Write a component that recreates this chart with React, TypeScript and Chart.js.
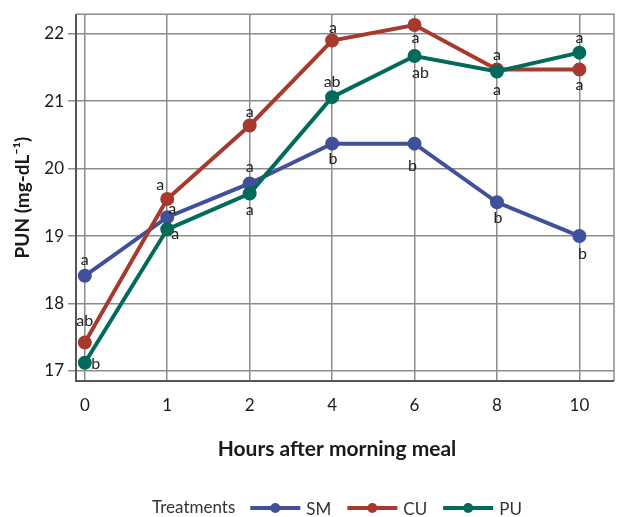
import React, { useEffect, useRef } from "react";
import { Chart, registerables } from "chart.js";

Chart.register(...registerables);

const hours = ["0", "1", "2", "4", "6", "8", "10"];
const smValues = [18.41, 19.28, 19.78, 20.37, 20.37, 19.5, 19.0];
const cuValues = [17.42, 19.55, 20.64, 21.9, 22.13, 21.47, 21.47];
const puValues = [17.12, 19.1, 19.63, 21.06, 21.67, 21.44, 21.72];
const smLetters = ["a", "a", "a", "b", "b", "b", "b"];
const cuLetters = ["ab", "a", "a", "a", "a", "a", "a"];
const puLetters = ["b", "a", "a", "ab", "ab", "a", "a"];
const yTicks = [17, 18, 19, 20, 21, 22];

// letter placement relative to each point (px)
const smLetterOffsets = [[0, -16], [5, -8], [0, -17], [1, 15], [-2, 22], [1, 16], [3, 18]];
const cuLetterOffsets = [[0, -22], [-7, -14], [0, -14], [1, -13], [1, 13], [0, -15], [0, 15]];
const puLetterOffsets = [[11, 1], [8, 5], [0, 16], [0, -15], [6, 17], [0, 18], [0, -15]];

const FONT = "Lato, 'Open Sans', sans-serif";

const letterPlugin = {
  id: "letters",
  afterDatasetsDraw(chart: any) {
    const ctx = chart.ctx;
    ctx.save();
    ctx.font = `16px ${FONT}`;
    ctx.fillStyle = "#222";
    ctx.textAlign = "center";
    ctx.textBaseline = "middle";
    chart.data.datasets.forEach((ds: any, i: number) => {
      const meta = chart.getDatasetMeta(i);
      meta.data.forEach((pt: any, j: number) => {
        const off = ds.letterOffsets[j];
        ctx.fillText(ds.letters[j], pt.x + off[0], pt.y + off[1]);
      });
    });
    ctx.restore();
  },
};

const framePlugin = {
  id: "frame",
  beforeDatasetsDraw(chart: any) {
    const { ctx, chartArea: a } = chart;
    ctx.save();
    ctx.strokeStyle = "#8c8c8c";
    ctx.lineWidth = 1.5;
    ctx.beginPath();
    ctx.moveTo(a.left, a.top);
    ctx.lineTo(a.right, a.top);
    ctx.lineTo(a.right, a.bottom);
    ctx.stroke();
    ctx.strokeStyle = "#555";
    ctx.lineWidth = 2;
    ctx.beginPath();
    ctx.moveTo(a.left, a.top);
    ctx.lineTo(a.left, a.bottom);
    ctx.lineTo(a.right, a.bottom);
    ctx.stroke();
    ctx.restore();
  },
  afterDraw(chart: any) {
    const { ctx, chartArea: a } = chart;
    const cx = (a.left + a.right) / 2 - 8;
    ctx.save();
    ctx.fillStyle = "#1a1a1a";
    ctx.font = `bold 21px ${FONT}`;
    ctx.textAlign = "center";
    ctx.textBaseline = "middle";
    ctx.fillText("Hours after morning meal", cx, a.bottom + 68);

    // legend
    ctx.font = `17px ${FONT}`;
    const title = "Treatments";
    const titleW = ctx.measureText(title).width;
    const symW = 50;
    const items = chart.data.datasets.map((d: any) => ({
      label: d.label,
      color: d.borderColor,
      w: ctx.measureText(d.label).width,
    }));
    const gapTitle = 15;
    const gapSym = 6;
    const gapItem = 16;
    let total = titleW + gapTitle;
    items.forEach((it: any, i: number) => {
      total += symW + gapSym + it.w + (i < items.length - 1 ? gapItem : 0);
    });
    let x = cx - total / 2;
    const y = a.bottom + 127;
    ctx.textAlign = "left";
    ctx.fillStyle = "#333";
    ctx.fillText(title, x, y);
    x += titleW + gapTitle;
    items.forEach((it: any) => {
      ctx.strokeStyle = it.color;
      ctx.lineWidth = 4;
      ctx.beginPath();
      ctx.moveTo(x, y);
      ctx.lineTo(x + symW, y);
      ctx.stroke();
      ctx.fillStyle = it.color;
      ctx.beginPath();
      ctx.arc(x + symW / 2, y, 5, 0, Math.PI * 2);
      ctx.fill();
      x += symW + gapSym;
      ctx.fillStyle = "#333";
      ctx.fillText(it.label, x, y + 2);
      x += it.w + gapItem;
    });
    ctx.restore();
  },
};

function series(values: number[]) {
  return values.map((v, i) => ({ x: i, y: v }));
}

export default function App() {
  const ref = useRef<HTMLCanvasElement>(null);
  useEffect(() => {
    if (!ref.current) return;
    const common = { borderWidth: 4, pointRadius: 5, pointHoverRadius: 5 };
    const chart = new Chart(ref.current, {
      type: "line",
      data: {
        datasets: [
          {
            label: "SM",
            data: series(smValues),
            borderColor: "#41509a",
            backgroundColor: "#41509a",
            ...common,
            order: 2,
            letters: smLetters,
            letterOffsets: smLetterOffsets,
          } as any,
          {
            label: "CU",
            data: series(cuValues),
            borderColor: "#a63a2f",
            backgroundColor: "#a63a2f",
            ...common,
            order: 1,
            letters: cuLetters,
            letterOffsets: cuLetterOffsets,
          } as any,
          {
            label: "PU",
            data: series(puValues),
            borderColor: "#006a5b",
            backgroundColor: "#006a5b",
            ...common,
            order: 0,
            letters: puLetters,
            letterOffsets: puLetterOffsets,
          } as any,
        ],
      },
      options: {
        animation: false,
        responsive: true,
        maintainAspectRatio: false,
        layout: { padding: { left: 0, right: 1, top: 12, bottom: 0 } },
        plugins: { legend: { display: false }, tooltip: { enabled: false } },
        scales: {
          x: {
            type: "linear",
            min: -0.107,
            max: 6.42,
            afterBuildTicks: (s: any) => {
              s.ticks = hours.map((_, i) => ({ value: i }));
            },
            afterFit: (s: any) => {
              s.height = 136;
            },
            border: { display: false },
            grid: { color: "#8c8c8c", lineWidth: 1.5, drawTicks: false },
            ticks: {
              padding: 14,
              color: "#1a1a1a",
              font: { family: FONT, size: 17 },
              callback: (v: any) => hours[v] ?? "",
            },
          },
          y: {
            min: 16.85,
            max: 22.29,
            afterBuildTicks: (s: any) => {
              s.ticks = yTicks.map((v) => ({ value: v }));
            },
            afterFit: (s: any) => {
              s.width = 76;
            },
            border: { display: false },
            grid: { color: "#8c8c8c", lineWidth: 1.5, tickLength: 8 },
            ticks: {
              padding: 4,
              color: "#1a1a1a",
              font: { family: FONT, size: 17 },
            },
            title: {
              display: true,
              text: "PUN (mg-dL⁻¹)",
              color: "#1a1a1a",
              font: { family: FONT, size: 19, weight: "bold" },
              padding: { top: 11, bottom: 0 },
            },
          },
        },
      },
      plugins: [framePlugin, letterPlugin],
    });
    return () => chart.destroy();
  }, []);
  return (
    <div style={{ position: "absolute", left: 0, top: 0, width: 623, height: 517 }}>
      <canvas ref={ref} />
    </div>
  );
}
